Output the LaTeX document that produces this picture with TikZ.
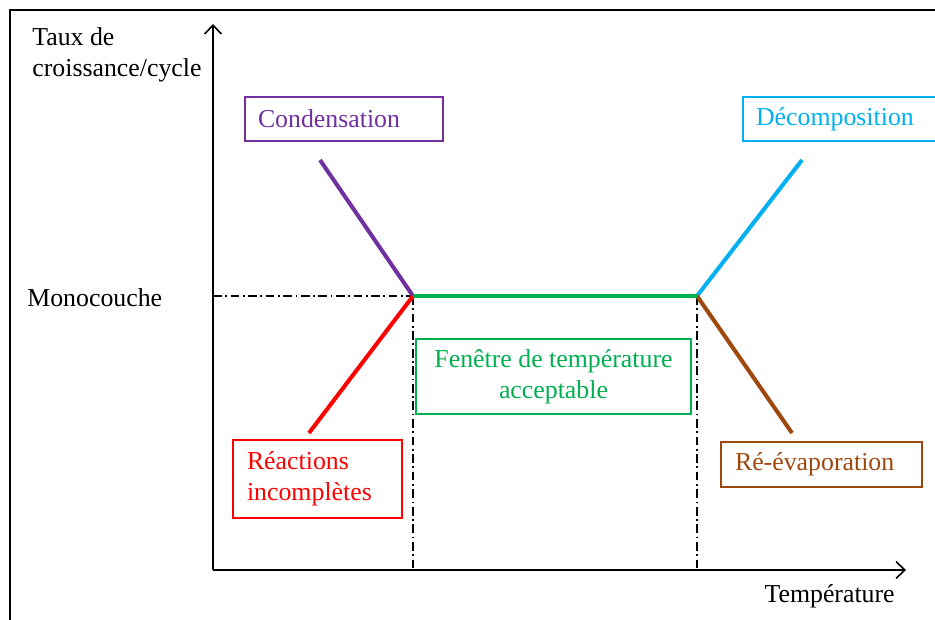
\documentclass[tikz,border=0pt]{standalone}
\usepackage{fontspec}
\setmainfont{Liberation Serif}
\usetikzlibrary{arrows.meta}
\definecolor{violet}{RGB}{112,48,160}
\definecolor{bleu}{RGB}{0,176,240}
\definecolor{vert}{RGB}{0,176,80}
\definecolor{rouge}{RGB}{255,0,0}
\definecolor{brun}{RGB}{158,72,14}
\tikzset{
  etiquette/.style={draw=#1, text=#1, line width=1pt, inner xsep=0pt, inner ysep=0pt,
    font=\fontsize{14.7}{17.6}\selectfont},
  courbe/.style={draw=#1, line width=2.3pt},
  pointille/.style={line width=0.6pt, dash pattern=on 5pt off 2pt on 1pt off 2pt},
  axe/.style={-{Straight Barb[length=5pt, width=9.5pt, line width=0.9pt]}, line width=0.9pt},
}
\begin{document}
\begin{tikzpicture}[x=0.02cm, y=-0.02cm, font=\fontsize{14.7}{17.6}\selectfont]
                \useasboundingbox (0,0) rectangle (935,619);
                \draw [line width=1.7pt] (10,700) -- (10,10) -- (1000,10);

                % axes
                \coordinate (O) at (213,570);
                \coordinate (yhaut) at (213,24);
                \coordinate (xfin) at (906,570);
                \draw [axe] (O) -- (yhaut);
                \draw [axe] (O) -- (xfin);

                \node [anchor=north west, align=left, inner sep=0pt] (taux) at (32,27) {Taux de\\croissance/cycle};
                \node [anchor=west, inner sep=0pt] (mono) at (27,298) {Monocouche};
                \node [anchor=north east, inner sep=0pt] (temp) at (895,584) {Température};

                % fenetre
                \coordinate (A) at (413,296);
                \coordinate (B) at (697,296);
                \coordinate (Ay) at (213,296);
                \coordinate (Ax) at (413,570);
                \coordinate (Bx) at (697,570);
                \draw [pointille] (Ay) -- (A);
                \draw [pointille] (A) -- (Ax);
                \draw [pointille] (B) -- (Bx);

                \coordinate (c1) at (320,160);
                \coordinate (r1) at (309,433);
                \coordinate (d1) at (802,160);
                \coordinate (e1) at (792,433);
                \draw [courbe=violet] (c1) -- (A);
                \draw [courbe=rouge] (A) -- (r1);
                \draw [courbe=bleu] (B) -- (d1);
                \draw [courbe=brun] (B) -- (e1);
                \draw [courbe=vert] (A) -- (B);

                % etiquettes
                \node [etiquette=violet, minimum width=3.96cm, minimum height=0.88cm, text width=3.44cm, align=left] (cond) at (344,119) {Condensation};
                \node [etiquette=bleu, minimum width=3.96cm, minimum height=0.88cm, text width=3.44cm, align=left] (decomp) at (842,119) {Décomposition};
                \node [etiquette=vert, minimum width=5.5cm, minimum height=1.5cm, align=center] (fen) at (553.5,376.5) {Fenêtre de température\\acceptable};
                \node [etiquette=rouge, minimum width=3.38cm, minimum height=1.56cm, text width=2.82cm, align=left] (reac) at (317.5,479) {Réactions\\incomplètes};
                \node [etiquette=brun, minimum width=4.02cm, minimum height=0.9cm, text width=3.46cm, align=left] (reev) at (821.5,464.5) {Ré-évaporation};
            \end{tikzpicture}
\end{document}
